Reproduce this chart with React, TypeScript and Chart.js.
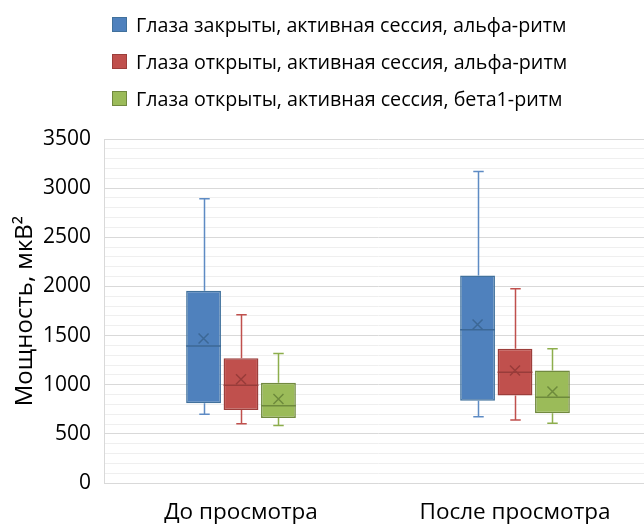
import React, { useEffect, useRef } from "react";
import { Chart, registerables } from "chart.js";

Chart.register(...registerables);

const categories = ["До просмотра", "После просмотра"];
const seriesNames = [
  "Глаза закрыты, активная сессия, альфа-ритм",
  "Глаза открыты, активная сессия, альфа-ритм",
  "Глаза открыты, активная сессия, бета1-ритм",
];
// per series: values for [До, После]
const whiskerMin = [
  [700, 675],
  [604, 642],
  [584, 608],
];
const q1 = [
  [811, 838],
  [743, 889],
  [662, 710],
];
const median = [
  [1395, 1558],
  [995, 1127],
  [787, 873],
];
const q3 = [
  [1955, 2111],
  [1270, 1365],
  [1021, 1144],
];
const whiskerMax = [
  [2892, 3170],
  [1711, 1976],
  [1317, 1365],
];
const mean = [
  [1470, 1612],
  [1056, 1144],
  [855, 930],
];

const fills = ["#4F81BD", "#C0504D", "#9BBB59"];
const borders = ["#41719C", "#9C3E3B", "#71893F"];
const whiskerColors = ["#5E8BC4", "#C0504D", "#8DAE4C"];
const markColors = ["#3C6896", "#983C3A", "#6E8A3C"];

const FONT = "'Open Sans', sans-serif";

const boxPlugin = {
  id: "boxExtras",
  beforeDatasetsDraw(chart: any) {
    const ctx = chart.ctx;
    const y = chart.scales.y;
    chart.data.datasets.forEach((_: any, i: number) => {
      const meta = chart.getDatasetMeta(i);
      meta.data.forEach((bar: any, j: number) => {
        const x = Math.round(bar.x) + 0.5;
        const cap = bar.width * 0.3;
        ctx.save();
        ctx.strokeStyle = whiskerColors[i];
        ctx.lineWidth = 1.5;
        ctx.beginPath();
        const yMax = y.getPixelForValue(whiskerMax[i][j]);
        const yQ3 = y.getPixelForValue(q3[i][j]);
        const yMin = y.getPixelForValue(whiskerMin[i][j]);
        const yQ1 = y.getPixelForValue(q1[i][j]);
        ctx.moveTo(x, yMax);
        ctx.lineTo(x, yQ3);
        ctx.moveTo(x - cap / 2, yMax);
        ctx.lineTo(x + cap / 2, yMax);
        ctx.moveTo(x, yMin);
        ctx.lineTo(x, yQ1);
        ctx.moveTo(x - cap / 2, yMin);
        ctx.lineTo(x + cap / 2, yMin);
        ctx.stroke();
        ctx.restore();
      });
    });
  },
  afterDatasetsDraw(chart: any) {
    const ctx = chart.ctx;
    const y = chart.scales.y;
    chart.data.datasets.forEach((_: any, i: number) => {
      const meta = chart.getDatasetMeta(i);
      meta.data.forEach((bar: any, j: number) => {
        const x = bar.x;
        const half = bar.width / 2;
        ctx.save();
        ctx.strokeStyle = markColors[i];
        ctx.lineWidth = 1.5;
        const yMed = y.getPixelForValue(median[i][j]);
        ctx.beginPath();
        ctx.moveTo(x - half, yMed);
        ctx.lineTo(x + half, yMed);
        ctx.stroke();
        const yMean = y.getPixelForValue(mean[i][j]);
        const s = 5;
        ctx.beginPath();
        ctx.moveTo(x - s, yMean - s);
        ctx.lineTo(x + s, yMean + s);
        ctx.moveTo(x + s, yMean - s);
        ctx.lineTo(x - s, yMean + s);
        ctx.stroke();
        ctx.restore();
      });
    });
  },
};

export default function App() {
  const ref = useRef<HTMLCanvasElement>(null);
  useEffect(() => {
    if (!ref.current) return;
    const chart = new Chart(ref.current, {
      type: "bar",
      data: {
        labels: categories,
        datasets: seriesNames.map((name, i) => ({
          label: name,
          data: categories.map((_, j) => [q1[i][j], q3[i][j]]) as any,
          backgroundColor: fills[i],
          borderColor: borders[i],
          borderWidth: 1.5,
          borderSkipped: false,
          categoryPercentage: 0.41,
          barPercentage: 0.93,
        })),
      },
      options: {
        responsive: false,
        animation: false,
        devicePixelRatio: 1,
        layout: { padding: { top: 139, right: 28, bottom: 12, left: 0 } },
        plugins: {
          legend: { display: false },
          tooltip: { enabled: false },
        },
        scales: {
          x: {
            grid: { display: false },
            border: { display: true, color: "#d9d9d9" },
            ticks: {
              color: "#000",
              font: { family: FONT, size: 22.5 },
              padding: 8,
            },
            afterFit: (s: any) => {
              s.height = 45;
            },
          },
          y: {
            min: 0,
            max: 3500,
            border: { display: true, color: "#d9d9d9" },
            grid: {
              drawTicks: false,
              color: (c: any) =>
                c.tick && c.tick.value % 500 === 0 ? "#d9d9d9" : "#efefef",
            },
            ticks: {
              stepSize: 100,
              autoSkip: false,
              padding: 13,
              color: "#000",
              font: { family: FONT, size: 21 },
              callback: (v: any) => (Number(v) % 500 === 0 ? String(v) : ""),
            },
            title: {
              display: true,
              text: "Мощность, мкВ²",
              color: "#000",
              font: { family: FONT, size: 24 },
              padding: { top: 11, bottom: 0 },
            },
            afterFit: (s: any) => {
              s.width = 104;
            },
          },
        },
      },
      plugins: [boxPlugin],
    });
    return () => chart.destroy();
  }, []);

  const rowCenters = [24, 61, 98];
  return (
    <div
      style={{
        position: "fixed",
        left: 0,
        top: 0,
        width: 644,
        height: 524,
        overflow: "hidden",
        background: "#fff",
      }}
    >
      <canvas
        ref={ref}
        width={680}
        height={540}
        style={{ display: "block", position: "absolute", left: 0, top: 0 }}
      />
      {seriesNames.map((name, i) => (
        <div
          key={name}
          style={{
            position: "absolute",
            left: 112,
            top: rowCenters[i] - 15,
            height: 30,
            display: "flex",
            alignItems: "center",
            fontFamily: FONT,
            fontSize: 19.7,
            color: "#000",
            whiteSpace: "nowrap",
          }}
        >
          <span
            style={{
              display: "inline-block",
              width: 13,
              height: 13,
              background: fills[i],
              border: `1px solid ${borders[i]}`,
              marginRight: 9,
            }}
          />
          <span>{name}</span>
        </div>
      ))}
    </div>
  );
}
